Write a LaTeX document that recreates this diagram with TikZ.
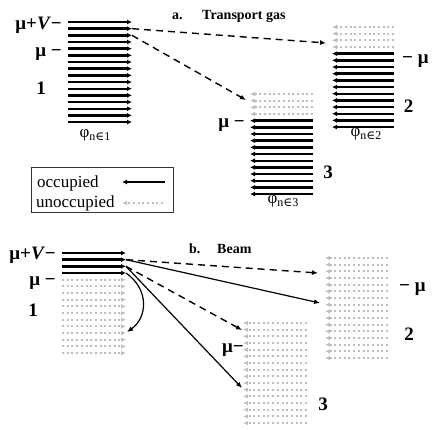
\documentclass[tikz,border=0pt]{standalone}
\usepackage{fontspec}
\setmainfont{Liberation Serif}
\newfontfamily\symfont{DejaVu Serif}
\usetikzlibrary{arrows.meta}
\definecolor{emptygray}{RGB}{186,192,192}

\begin{document}
\begin{tikzpicture}[x=1pt,y=-1pt,
        occ/.style={line width=2.4pt,-{Latex[length=5pt,width=5pt]}},
        unocc/.style={emptygray,line width=1.8pt,dash pattern=on 2pt off 2.7pt,-{Latex[length=5pt,width=4.6pt]}},
        hop/.style={line width=1.4pt,dash pattern=on 7pt off 5pt,-{Latex[length=6pt,width=5pt]}},
        fly/.style={line width=1.2pt,-{Latex[length=6pt,width=5pt]}},
        lab/.style={font=\bfseries\fontsize{19}{22}\selectfont,inner sep=0pt},
        head/.style={font=\bfseries\fontsize{14}{16}\selectfont,inner sep=0pt,anchor=base west},
        key/.style={font=\fontsize{17}{19}\selectfont,inner sep=0pt,anchor=base west},
        phi/.style={font=\fontsize{17}{19}\selectfont,inner sep=0pt}]
    \useasboundingbox (0,0) rectangle (443,429);

    % a. transport gas
    \foreach \k in {0,...,15} {
        \pgfmathsetmacro\yy{22+6.67*\k}
        \coordinate (a1s\k) at (68,\yy);
        \coordinate (a1e\k) at (132,\yy);
        \draw[occ] (a1s\k) -- (a1e\k);
    }
    \foreach \k in {0,...,15} {
        \pgfmathsetmacro\yy{27+6.67*\k}
        \coordinate (a2s\k) at (394,\yy);
        \coordinate (a2e\k) at (332,\yy);
        \pgfmathsetmacro\zz{94+6.67*\k}
        \coordinate (a3s\k) at (313,\zz);
        \coordinate (a3e\k) at (250,\zz);
    }
    \foreach \k in {0,...,3} {
        \draw[unocc] (a2s\k) -- (a2e\k);
        \draw[unocc] (a3s\k) -- (a3e\k);
    }
    \foreach \k in {4,...,15} {
        \draw[occ] (a2s\k) -- (a2e\k);
        \draw[occ] (a3s\k) -- (a3e\k);
    }

    \coordinate (a2in) at (326,43);
    \coordinate (a3in) at (246,100);
    \draw[hop] (a1e1) -- (a2in);
    \draw[hop] (a1e2) -- (a3in);

    \node[head] (atag) at (172,19) {a.};
    \node[head] (atitle) at (202,19) {Transport gas};

    \node[lab,anchor=base east] (a1top) at (62,29) {μ+\textit{V}−};
    \node[lab,anchor=base east] (a1mu) at (62,56) {μ −};
    \node[lab] (a1num) at (41,88) {1};
    \node[lab,anchor=base west] (a2mu) at (402,63) {− μ};
    \node[lab] (a2num) at (408.5,106.5) {2};
    \node[lab,anchor=base east] (a3mu) at (245,127) {μ −};
    \node[lab] (a3num) at (328,172) {3};

    \node[phi] (a1phi) at (95,135) {φ\raisebox{-3pt}{\fontsize{12}{13}\selectfont n{\symfont ∈}1}};
    \node[phi] (a2phi) at (366,134) {φ\raisebox{-3pt}{\fontsize{12}{13}\selectfont n{\symfont ∈}2}};
    \node[phi] (a3phi) at (283,201) {φ\raisebox{-3pt}{\fontsize{12}{13}\selectfont n{\symfont ∈}3}};

    % legend
    \draw[line width=0.8pt,black!80] (31,167) rectangle (173,212);
    \node[key] (kocc) at (37,187) {occupied};
    \node[key] (kun) at (36,207) {unoccupied};
    \coordinate (kocc1) at (165,182);
    \coordinate (kocc2) at (122,182);
    \coordinate (kun1) at (163,203);
    \coordinate (kun2) at (122,203);
    \draw[occ] (kocc1) -- (kocc2);
    \draw[unocc] (kun1) -- (kun2);

    % b. beam
    \foreach \k in {0,...,15} {
        \pgfmathsetmacro\yy{253+6.67*\k}
        \coordinate (b1s\k) at (62,\yy);
        \coordinate (b1e\k) at (126,\yy);
        \pgfmathsetmacro\zz{258+6.67*\k}
        \coordinate (b2s\k) at (388,\zz);
        \coordinate (b2e\k) at (325,\zz);
        \pgfmathsetmacro\ww{323+6.67*\k}
        \coordinate (b3s\k) at (307,\ww);
        \coordinate (b3e\k) at (243,\ww);
        \draw[unocc] (b2s\k) -- (b2e\k);
        \draw[unocc] (b3s\k) -- (b3e\k);
    }
    \foreach \k in {0,...,3} {
        \draw[occ] (b1s\k) -- (b1e\k);
    }
    \foreach \k in {4,...,15} {
        \draw[unocc] (b1s\k) -- (b1e\k);
    }

    \coordinate (b2hop) at (318,273);
    \coordinate (b2fly) at (320,303);
    \coordinate (b3hop) at (242,330);
    \coordinate (b3fly) at (242,388);
    \coordinate (b1back) at (127,332);
    \draw[hop] (b1e1) -- (b2hop);
    \draw[fly] (b1e1) -- (b2fly);
    \draw[hop] (b1e2) -- (b3hop);
    \draw[fly] (b1e2) -- (b3fly);
    \draw[fly] (b1e3) .. controls (150,290) and (147,318) .. (b1back);

    \node[head] (btag) at (189,253) {b.};
    \node[head] (btitle) at (217,253) {Beam};

    \node[lab,anchor=base east] (b1top) at (56,259) {μ+\textit{V}−};
    \node[lab,anchor=base east] (b1mu) at (56,285) {μ −};
    \node[lab] (b1num) at (33,310) {1};
    \node[lab,anchor=base west] (b2mu) at (399,291) {− μ};
    \node[lab] (b2num) at (409,334) {2};
    \node[lab,anchor=base east] (b3mu) at (244,352) {μ−};
    \node[lab] (b3num) at (323,404) {3};
\end{tikzpicture}
\end{document}
